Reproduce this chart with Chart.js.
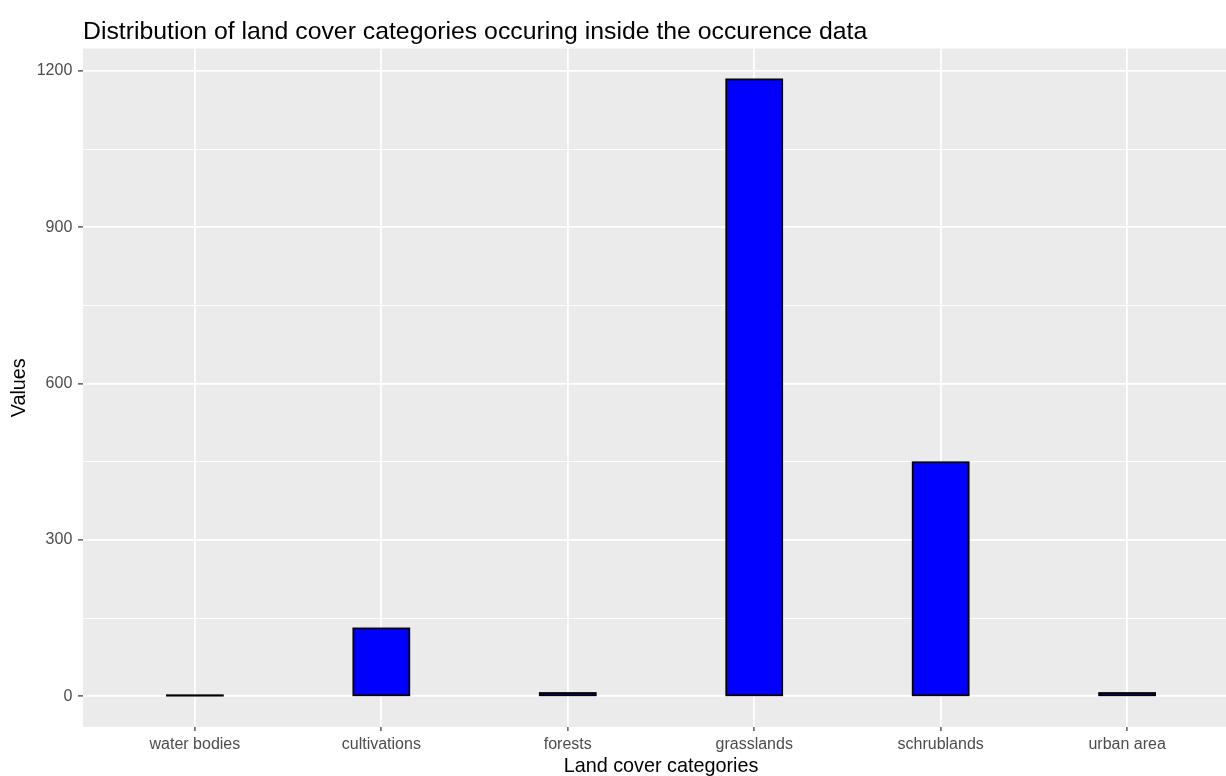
<!DOCTYPE html>
<html>
<head>
<meta charset="utf-8">
<title>Land cover categories</title>
<script src="https://cdn.jsdelivr.net/npm/chart.js@4/dist/chart.umd.min.js"></script>
<style>
  html, body { margin: 0; padding: 0; background: #ffffff; overflow: hidden; width: 1226px; height: 776px; }
  #wrap { width: 1226px; height: 776px; overflow: hidden; }
  canvas { display: block; }
</style>
</head>
<body>
<div id="wrap"><canvas id="chart" width="1240" height="776" style="width:1240px;height:776px"></canvas></div>
<script>
// Land cover categories and the number of occurrences falling in each
const categories = ['water bodies', 'cultivations', 'forests', 'grasslands', 'schrublands', 'urban area'];
const counts = [1, 130, 6, 1184, 449, 6];

// y axis: labelled breaks every 300, minor grid halfway between
const yBreaks = [0, 300, 600, 900, 1200];
const yMinorStep = 150;

const chartTitle = 'Distribution of land cover categories occuring inside the occurence data';
const xTitle = 'Land cover categories';
const yTitle = 'Values';

const FONT = "'Liberation Sans', Arial, Helvetica, sans-serif";

// 5% headroom on the value axis, 0.6 category padding on the discrete axis
const yMaxData = Math.max(...counts);
const yPad = yMaxData * 0.05;

const panelBackground = {
  id: 'panelBackground',
  beforeDraw(chart) {
    const { ctx, chartArea: a } = chart;
    ctx.save();
    ctx.fillStyle = '#EBEBEB';
    ctx.fillRect(a.left, a.top, a.right - a.left, a.bottom - a.top);
    ctx.restore();
  }
};

// outline each bar with a centred stroke so even near-zero bars show up
const barOutline = {
  id: 'barOutline',
  afterDatasetsDraw(chart) {
    const { ctx } = chart;
    ctx.save();
    ctx.strokeStyle = '#000000';
    ctx.lineWidth = 1.8;
    chart.getDatasetMeta(0).data.forEach(el => {
      const { x, y, base, width } = el.getProps(['x', 'y', 'base', 'width'], true);
      const top = Math.min(y, base);
      ctx.strokeRect(x - width / 2, top, width, Math.abs(base - y));
    });
    ctx.restore();
  }
};

new Chart(document.getElementById('chart'), {
  type: 'bar',
  data: {
    datasets: [{
      data: counts.map((v, i) => ({ x: i, y: v })),
      backgroundColor: '#0000FF',
      borderWidth: 0,
      barPercentage: 0.3,
      categoryPercentage: 1.0
    }]
  },
  options: {
    responsive: false,
    animation: false,
    devicePixelRatio: 1,
    layout: { padding: { top: 0, left: 0, right: 1, bottom: 0 } },
    plugins: {
      legend: { display: false },
      tooltip: { enabled: false },
      title: {
        display: true,
        text: chartTitle,
        align: 'start',
        fullSize: false,
        color: '#000000',
        font: { family: FONT, size: 24.8, weight: 'normal', lineHeight: 1.2 },
        padding: { top: 17, bottom: 1.8 }
      }
    },
    scales: {
      x: {
        type: 'linear',
        offset: false,
        min: -0.6,
        max: categories.length - 1 + 0.6,
        border: { display: false },
        grid: {
          offset: false,
          color: '#FFFFFF',
          lineWidth: 1.8,
          drawTicks: true,
          tickLength: 4,
          tickColor: '#333333',
          tickWidth: 1.2
        },
        ticks: {
          stepSize: 1,
          autoSkip: false,
          includeBounds: false,
          maxRotation: 0,
          padding: 3.6,
          color: '#4D4D4D',
          font: { family: FONT, size: 16 },
          callback: v => categories[v] ?? ''
        },
        title: {
          display: true,
          text: xTitle,
          color: '#000000',
          font: { family: FONT, size: 19.8, lineHeight: 1 },
          padding: { top: 0, bottom: 0 }
        },
        afterFit(scale) { scale.height = 49; }
      },
      y: {
        type: 'linear',
        min: -yPad,
        max: yMaxData + yPad,
        border: { display: false },
        grid: {
          color: '#FFFFFF',
          lineWidth: ctx => (yBreaks.includes(ctx.tick.value) ? 1.8 : 0.9),
          drawTicks: true,
          tickLength: 5,
          tickColor: ctx => (yBreaks.includes(ctx.tick.value) ? '#333333' : 'rgba(0,0,0,0)'),
          tickWidth: 1.2
        },
        ticks: {
          stepSize: yMinorStep,
          includeBounds: false,
          padding: 5.7,
          color: '#4D4D4D',
          font: { family: FONT, size: 16 },
          callback: v => (yBreaks.includes(v) ? String(v) : '')
        },
        title: {
          display: true,
          text: yTitle,
          color: '#000000',
          font: { family: FONT, size: 19.8, lineHeight: 1 },
          padding: { top: 10, bottom: 0 }
        },
        afterFit(scale) { scale.width = 83; }
      }
    }
  },
  plugins: [panelBackground, barOutline]
});
</script>
</body>
</html>
